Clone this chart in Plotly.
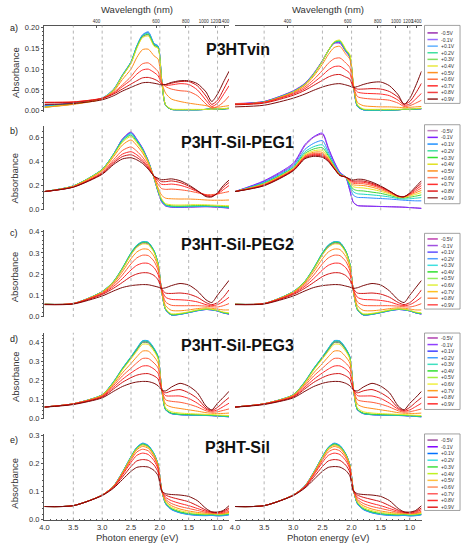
import plotly.graph_objects as go

# photon energy grid shared by all spectra (eV)
energy = [4.0, 3.5, 3.0, 2.8, 2.65, 2.5, 2.4, 2.3, 2.2, 2.1, 2.03, 1.97,
          1.9, 1.8, 1.65, 1.5, 1.35, 1.2, 1.1, 1.0, 0.9, 0.8]

voltages = ["-0.5V", "-0.1V", "+0.1V", "+0.2V", "+0.3V", "+0.4V",
            "+0.5V", "+0.6V", "+0.7V", "+0.8V", "+0.9V"]
samples = ["P3HTvin", "P3HT-Sil-PEG1", "P3HT-Sil-PEG2", "P3HT-Sil-PEG3", "P3HT-Sil"]
panel_tags = ["a)", "b)", "c)", "d)", "e)"]

# absorbance, one list per potential
vin_left = [
    [0.012, 0.018, 0.029, 0.05, 0.083, 0.115, 0.152, 0.178, 0.183, 0.158, 0.152, 0.075, 0.012, 0.003, 0.002, 0.002, 0.002, 0.003, 0.004, 0.003, 0.004, 0.005],
    [0.012, 0.018, 0.03, 0.051, 0.085, 0.117, 0.155, 0.182, 0.188, 0.161, 0.155, 0.077, 0.013, 0.003, 0.002, 0.002, 0.002, 0.003, 0.005, 0.003, 0.004, 0.005],
    [0.011, 0.018, 0.03, 0.052, 0.086, 0.118, 0.156, 0.183, 0.19, 0.162, 0.156, 0.078, 0.013, 0.003, 0.002, 0.002, 0.002, 0.003, 0.006, 0.004, 0.004, 0.006],
    [0.01, 0.017, 0.03, 0.051, 0.085, 0.117, 0.155, 0.181, 0.187, 0.16, 0.154, 0.077, 0.013, 0.003, 0.002, 0.002, 0.002, 0.003, 0.005, 0.004, 0.004, 0.006],
    [0.008, 0.016, 0.029, 0.05, 0.084, 0.116, 0.153, 0.179, 0.184, 0.158, 0.152, 0.076, 0.013, 0.003, 0.002, 0.002, 0.002, 0.003, 0.004, 0.003, 0.004, 0.005],
    [0.008, 0.016, 0.029, 0.05, 0.083, 0.114, 0.15, 0.176, 0.18, 0.155, 0.15, 0.075, 0.014, 0.004, 0.003, 0.003, 0.003, 0.003, 0.004, 0.004, 0.005, 0.006],
    [0.008, 0.015, 0.028, 0.047, 0.075, 0.1, 0.128, 0.147, 0.148, 0.132, 0.124, 0.07, 0.042, 0.028, 0.022, 0.018, 0.015, 0.012, 0.008, 0.008, 0.01, 0.012],
    [0.02, 0.021, 0.03, 0.044, 0.062, 0.082, 0.1, 0.113, 0.115, 0.104, 0.094, 0.068, 0.058, 0.052, 0.048, 0.046, 0.036, 0.016, 0.006, 0.01, 0.02, 0.035],
    [0.02, 0.021, 0.03, 0.042, 0.058, 0.074, 0.088, 0.098, 0.1, 0.092, 0.084, 0.066, 0.061, 0.062, 0.065, 0.063, 0.05, 0.025, 0.01, 0.018, 0.038, 0.06],
    [0.019, 0.02, 0.029, 0.04, 0.052, 0.064, 0.072, 0.079, 0.08, 0.076, 0.071, 0.064, 0.063, 0.066, 0.07, 0.07, 0.06, 0.035, 0.015, 0.025, 0.05, 0.077],
    [0.015, 0.017, 0.026, 0.036, 0.047, 0.056, 0.062, 0.067, 0.068, 0.066, 0.064, 0.062, 0.063, 0.068, 0.072, 0.072, 0.065, 0.045, 0.022, 0.04, 0.068, 0.095],
]
vin_right = [
    [0.017, 0.022, 0.048, 0.066, 0.09, 0.121, 0.145, 0.162, 0.162, 0.142, 0.128, 0.06, 0.01, 0.002, 0.001, 0.001, 0.001, 0.002, 0.003, 0.003, 0.004, 0.004],
    [0.016, 0.022, 0.047, 0.065, 0.089, 0.12, 0.145, 0.163, 0.164, 0.143, 0.13, 0.061, 0.01, 0.002, 0.001, 0.001, 0.001, 0.002, 0.003, 0.003, 0.004, 0.004],
    [0.016, 0.021, 0.046, 0.064, 0.088, 0.12, 0.145, 0.164, 0.166, 0.144, 0.131, 0.062, 0.011, 0.002, 0.001, 0.001, 0.001, 0.002, 0.003, 0.003, 0.004, 0.005],
    [0.015, 0.021, 0.046, 0.064, 0.088, 0.119, 0.144, 0.164, 0.167, 0.145, 0.132, 0.063, 0.011, 0.002, 0.001, 0.001, 0.001, 0.002, 0.003, 0.003, 0.004, 0.005],
    [0.015, 0.021, 0.045, 0.063, 0.087, 0.119, 0.144, 0.165, 0.168, 0.146, 0.133, 0.064, 0.012, 0.003, 0.002, 0.002, 0.002, 0.002, 0.003, 0.003, 0.004, 0.005],
    [0.015, 0.02, 0.045, 0.063, 0.087, 0.119, 0.145, 0.166, 0.17, 0.148, 0.135, 0.066, 0.014, 0.004, 0.003, 0.003, 0.003, 0.003, 0.004, 0.004, 0.005, 0.006],
    [0.015, 0.02, 0.044, 0.061, 0.083, 0.112, 0.135, 0.152, 0.155, 0.136, 0.124, 0.062, 0.02, 0.012, 0.01, 0.009, 0.009, 0.008, 0.007, 0.008, 0.009, 0.01],
    [0.016, 0.02, 0.042, 0.057, 0.075, 0.097, 0.114, 0.125, 0.127, 0.115, 0.104, 0.06, 0.034, 0.03, 0.028, 0.027, 0.025, 0.018, 0.01, 0.012, 0.018, 0.025],
    [0.016, 0.02, 0.04, 0.053, 0.068, 0.085, 0.098, 0.106, 0.107, 0.098, 0.09, 0.058, 0.045, 0.042, 0.041, 0.04, 0.036, 0.025, 0.013, 0.016, 0.028, 0.042],
    [0.014, 0.018, 0.037, 0.049, 0.061, 0.073, 0.081, 0.086, 0.087, 0.081, 0.076, 0.057, 0.052, 0.052, 0.053, 0.052, 0.046, 0.032, 0.016, 0.022, 0.042, 0.066],
    [0.009, 0.013, 0.03, 0.04, 0.049, 0.057, 0.061, 0.064, 0.065, 0.062, 0.059, 0.056, 0.058, 0.063, 0.068, 0.069, 0.06, 0.038, 0.015, 0.03, 0.06, 0.095],
]
peg1_left = [
    [0.15, 0.195, 0.33, 0.46, 0.585, 0.645, 0.585, 0.51, 0.405, 0.26, 0.145, 0.065, 0.03, 0.02, 0.018, 0.02, 0.022, 0.024, 0.022, 0.02, 0.016, 0.012],
    [0.15, 0.196, 0.332, 0.462, 0.583, 0.64, 0.582, 0.508, 0.403, 0.26, 0.148, 0.068, 0.032, 0.022, 0.02, 0.022, 0.024, 0.025, 0.024, 0.021, 0.018, 0.014],
    [0.15, 0.197, 0.334, 0.463, 0.58, 0.635, 0.578, 0.505, 0.402, 0.261, 0.15, 0.072, 0.034, 0.024, 0.022, 0.024, 0.026, 0.027, 0.026, 0.023, 0.02, 0.016],
    [0.15, 0.197, 0.334, 0.462, 0.575, 0.628, 0.573, 0.5, 0.399, 0.262, 0.153, 0.076, 0.037, 0.027, 0.025, 0.027, 0.029, 0.03, 0.028, 0.026, 0.023, 0.02],
    [0.15, 0.196, 0.332, 0.458, 0.568, 0.618, 0.565, 0.494, 0.396, 0.263, 0.157, 0.082, 0.042, 0.032, 0.03, 0.032, 0.034, 0.034, 0.032, 0.03, 0.027, 0.024],
    [0.15, 0.195, 0.33, 0.453, 0.558, 0.606, 0.555, 0.487, 0.392, 0.265, 0.162, 0.09, 0.05, 0.04, 0.038, 0.04, 0.041, 0.04, 0.038, 0.036, 0.034, 0.032],
    [0.15, 0.193, 0.322, 0.44, 0.535, 0.578, 0.532, 0.47, 0.383, 0.268, 0.18, 0.12, 0.095, 0.09, 0.088, 0.088, 0.085, 0.08, 0.078, 0.078, 0.078, 0.08],
    [0.15, 0.19, 0.31, 0.415, 0.49, 0.52, 0.485, 0.435, 0.365, 0.272, 0.21, 0.175, 0.168, 0.17, 0.165, 0.155, 0.14, 0.125, 0.125, 0.13, 0.14, 0.15],
    [0.15, 0.188, 0.303, 0.398, 0.46, 0.48, 0.455, 0.412, 0.352, 0.275, 0.235, 0.21, 0.208, 0.212, 0.202, 0.18, 0.15, 0.12, 0.115, 0.13, 0.165, 0.2],
    [0.15, 0.187, 0.298, 0.387, 0.44, 0.455, 0.433, 0.397, 0.343, 0.277, 0.25, 0.232, 0.232, 0.238, 0.225, 0.195, 0.155, 0.115, 0.11, 0.135, 0.185, 0.225],
    [0.15, 0.186, 0.293, 0.375, 0.42, 0.43, 0.413, 0.383, 0.335, 0.278, 0.26, 0.248, 0.25, 0.255, 0.24, 0.205, 0.158, 0.108, 0.105, 0.14, 0.2, 0.245],
]
peg1_right = [
    [0.15, 0.235, 0.375, 0.53, 0.6, 0.625, 0.505, 0.395, 0.305, 0.268, 0.16, 0.062, 0.035, 0.03, 0.028, 0.026, 0.024, 0.022, 0.02, 0.017, 0.014, 0.011],
    [0.15, 0.24, 0.385, 0.54, 0.605, 0.635, 0.515, 0.4, 0.31, 0.268, 0.16, 0.06, 0.034, 0.03, 0.028, 0.026, 0.024, 0.022, 0.02, 0.017, 0.014, 0.01],
    [0.15, 0.228, 0.365, 0.5, 0.55, 0.572, 0.48, 0.38, 0.3, 0.27, 0.185, 0.12, 0.102, 0.1, 0.096, 0.092, 0.088, 0.082, 0.078, 0.075, 0.073, 0.073],
    [0.15, 0.222, 0.355, 0.48, 0.522, 0.537, 0.46, 0.37, 0.295, 0.27, 0.2, 0.148, 0.132, 0.128, 0.122, 0.115, 0.105, 0.092, 0.088, 0.09, 0.095, 0.1],
    [0.15, 0.218, 0.348, 0.466, 0.503, 0.513, 0.447, 0.363, 0.292, 0.27, 0.21, 0.17, 0.158, 0.155, 0.145, 0.135, 0.118, 0.1, 0.097, 0.103, 0.112, 0.122],
    [0.15, 0.214, 0.342, 0.455, 0.488, 0.492, 0.435, 0.357, 0.29, 0.27, 0.222, 0.19, 0.183, 0.18, 0.168, 0.152, 0.13, 0.105, 0.102, 0.112, 0.127, 0.142],
    [0.15, 0.21, 0.337, 0.446, 0.476, 0.475, 0.425, 0.352, 0.288, 0.27, 0.232, 0.206, 0.202, 0.2, 0.186, 0.165, 0.138, 0.108, 0.105, 0.12, 0.14, 0.16],
    [0.15, 0.207, 0.333, 0.44, 0.466, 0.462, 0.418, 0.348, 0.286, 0.27, 0.24, 0.218, 0.216, 0.215, 0.2, 0.176, 0.145, 0.11, 0.107, 0.126, 0.152, 0.18],
    [0.15, 0.204, 0.33, 0.434, 0.458, 0.452, 0.412, 0.345, 0.285, 0.27, 0.246, 0.228, 0.228, 0.227, 0.21, 0.184, 0.15, 0.112, 0.108, 0.13, 0.165, 0.2],
    [0.15, 0.201, 0.326, 0.428, 0.45, 0.443, 0.406, 0.342, 0.284, 0.27, 0.25, 0.237, 0.238, 0.237, 0.218, 0.19, 0.153, 0.113, 0.108, 0.135, 0.178, 0.22],
    [0.15, 0.198, 0.322, 0.422, 0.442, 0.434, 0.4, 0.339, 0.283, 0.27, 0.254, 0.246, 0.252, 0.25, 0.228, 0.196, 0.155, 0.112, 0.106, 0.14, 0.19, 0.24],
]
# PEG2, PEG3 and Sil: both columns show the same spectra
peg2 = [
    [0.057, 0.06, 0.115, 0.162, 0.222, 0.292, 0.328, 0.345, 0.342, 0.305, 0.245, 0.12, 0.032, 0.007, 0.01, 0.018, 0.027, 0.032, 0.03, 0.025, 0.016, 0.01],
    [0.057, 0.06, 0.116, 0.164, 0.225, 0.296, 0.332, 0.35, 0.347, 0.308, 0.248, 0.121, 0.031, 0.006, 0.009, 0.017, 0.026, 0.032, 0.03, 0.025, 0.016, 0.01],
    [0.057, 0.06, 0.117, 0.166, 0.228, 0.3, 0.337, 0.353, 0.35, 0.31, 0.25, 0.122, 0.031, 0.006, 0.009, 0.017, 0.026, 0.032, 0.03, 0.025, 0.016, 0.011],
    [0.057, 0.06, 0.117, 0.166, 0.228, 0.3, 0.336, 0.352, 0.349, 0.309, 0.249, 0.122, 0.032, 0.007, 0.01, 0.018, 0.027, 0.033, 0.031, 0.026, 0.017, 0.012],
    [0.057, 0.06, 0.116, 0.165, 0.226, 0.297, 0.333, 0.349, 0.346, 0.307, 0.248, 0.122, 0.033, 0.008, 0.011, 0.019, 0.028, 0.034, 0.032, 0.027, 0.018, 0.013],
    [0.057, 0.06, 0.115, 0.163, 0.222, 0.291, 0.326, 0.342, 0.339, 0.301, 0.244, 0.122, 0.036, 0.012, 0.014, 0.021, 0.03, 0.035, 0.033, 0.028, 0.02, 0.016],
    [0.057, 0.06, 0.113, 0.157, 0.21, 0.272, 0.304, 0.318, 0.316, 0.283, 0.232, 0.124, 0.05, 0.028, 0.026, 0.03, 0.036, 0.04, 0.038, 0.034, 0.03, 0.03],
    [0.056, 0.06, 0.11, 0.15, 0.195, 0.248, 0.276, 0.289, 0.287, 0.26, 0.217, 0.126, 0.068, 0.052, 0.05, 0.05, 0.05, 0.048, 0.045, 0.044, 0.05, 0.06],
    [0.056, 0.06, 0.107, 0.142, 0.178, 0.219, 0.241, 0.251, 0.25, 0.23, 0.197, 0.128, 0.09, 0.08, 0.078, 0.075, 0.068, 0.055, 0.05, 0.055, 0.07, 0.09],
    [0.056, 0.059, 0.103, 0.133, 0.16, 0.188, 0.2, 0.206, 0.205, 0.193, 0.172, 0.13, 0.11, 0.108, 0.11, 0.105, 0.09, 0.065, 0.055, 0.065, 0.09, 0.125],
    [0.055, 0.058, 0.096, 0.12, 0.136, 0.145, 0.148, 0.15, 0.149, 0.143, 0.138, 0.132, 0.135, 0.145, 0.155, 0.148, 0.12, 0.078, 0.065, 0.1, 0.135, 0.17],
]
peg3 = [
    [0.06, 0.077, 0.123, 0.19, 0.258, 0.318, 0.36, 0.4, 0.398, 0.362, 0.32, 0.158, 0.046, 0.026, 0.02, 0.018, 0.017, 0.016, 0.015, 0.013, 0.011, 0.009],
    [0.06, 0.077, 0.124, 0.193, 0.262, 0.323, 0.366, 0.406, 0.405, 0.367, 0.324, 0.159, 0.045, 0.025, 0.019, 0.017, 0.016, 0.015, 0.014, 0.012, 0.01, 0.008],
    [0.06, 0.077, 0.125, 0.195, 0.264, 0.326, 0.37, 0.41, 0.409, 0.37, 0.326, 0.16, 0.045, 0.025, 0.019, 0.017, 0.016, 0.015, 0.014, 0.012, 0.01, 0.008],
    [0.06, 0.077, 0.125, 0.194, 0.263, 0.325, 0.368, 0.408, 0.407, 0.368, 0.325, 0.16, 0.046, 0.026, 0.02, 0.018, 0.017, 0.016, 0.015, 0.013, 0.011, 0.009],
    [0.06, 0.077, 0.124, 0.192, 0.26, 0.321, 0.363, 0.402, 0.401, 0.363, 0.321, 0.16, 0.048, 0.028, 0.022, 0.02, 0.019, 0.018, 0.017, 0.015, 0.013, 0.011],
    [0.06, 0.077, 0.123, 0.189, 0.255, 0.314, 0.354, 0.391, 0.39, 0.354, 0.314, 0.16, 0.055, 0.035, 0.028, 0.025, 0.023, 0.021, 0.02, 0.018, 0.016, 0.015],
    [0.06, 0.077, 0.121, 0.182, 0.24, 0.29, 0.325, 0.355, 0.355, 0.325, 0.292, 0.158, 0.075, 0.06, 0.052, 0.045, 0.038, 0.03, 0.027, 0.026, 0.026, 0.028],
    [0.06, 0.077, 0.118, 0.174, 0.224, 0.265, 0.293, 0.316, 0.316, 0.292, 0.266, 0.156, 0.098, 0.09, 0.085, 0.075, 0.06, 0.04, 0.033, 0.035, 0.042, 0.05],
    [0.06, 0.076, 0.115, 0.165, 0.206, 0.24, 0.26, 0.276, 0.277, 0.26, 0.238, 0.154, 0.12, 0.118, 0.118, 0.105, 0.08, 0.048, 0.038, 0.045, 0.062, 0.08],
    [0.06, 0.075, 0.112, 0.156, 0.19, 0.215, 0.228, 0.235, 0.236, 0.224, 0.208, 0.152, 0.135, 0.145, 0.152, 0.135, 0.105, 0.055, 0.042, 0.058, 0.085, 0.11],
    [0.059, 0.073, 0.108, 0.143, 0.168, 0.185, 0.192, 0.195, 0.194, 0.185, 0.172, 0.15, 0.145, 0.165, 0.185, 0.17, 0.135, 0.065, 0.045, 0.08, 0.11, 0.143],
]
sil = [
    [0.047, 0.05, 0.088, 0.12, 0.167, 0.222, 0.255, 0.268, 0.26, 0.232, 0.195, 0.108, 0.058, 0.038, 0.026, 0.02, 0.017, 0.016, 0.017, 0.015, 0.016, 0.019],
    [0.047, 0.05, 0.088, 0.121, 0.169, 0.225, 0.258, 0.272, 0.264, 0.235, 0.197, 0.108, 0.057, 0.037, 0.025, 0.019, 0.016, 0.015, 0.016, 0.014, 0.015, 0.018],
    [0.047, 0.05, 0.088, 0.121, 0.17, 0.226, 0.259, 0.274, 0.266, 0.236, 0.198, 0.108, 0.057, 0.036, 0.024, 0.018, 0.015, 0.014, 0.015, 0.013, 0.014, 0.017],
    [0.047, 0.05, 0.088, 0.121, 0.169, 0.225, 0.258, 0.272, 0.264, 0.235, 0.197, 0.108, 0.058, 0.038, 0.026, 0.02, 0.017, 0.016, 0.017, 0.015, 0.016, 0.019],
    [0.047, 0.05, 0.088, 0.12, 0.168, 0.224, 0.256, 0.27, 0.262, 0.233, 0.196, 0.108, 0.06, 0.04, 0.028, 0.022, 0.019, 0.018, 0.019, 0.017, 0.018, 0.021],
    [0.047, 0.05, 0.088, 0.12, 0.167, 0.222, 0.254, 0.267, 0.259, 0.231, 0.195, 0.108, 0.063, 0.044, 0.032, 0.026, 0.022, 0.02, 0.021, 0.019, 0.02, 0.023],
    [0.047, 0.05, 0.088, 0.12, 0.166, 0.219, 0.25, 0.262, 0.255, 0.228, 0.193, 0.107, 0.067, 0.05, 0.038, 0.031, 0.026, 0.023, 0.023, 0.021, 0.022, 0.026],
    [0.047, 0.05, 0.088, 0.119, 0.163, 0.213, 0.242, 0.252, 0.246, 0.221, 0.188, 0.106, 0.073, 0.058, 0.047, 0.04, 0.033, 0.026, 0.024, 0.022, 0.024, 0.03],
    [0.047, 0.05, 0.087, 0.118, 0.159, 0.205, 0.23, 0.238, 0.233, 0.211, 0.181, 0.105, 0.08, 0.068, 0.058, 0.05, 0.04, 0.03, 0.026, 0.024, 0.027, 0.036],
    [0.047, 0.05, 0.087, 0.116, 0.152, 0.19, 0.21, 0.215, 0.212, 0.195, 0.17, 0.104, 0.088, 0.08, 0.072, 0.064, 0.05, 0.034, 0.027, 0.026, 0.03, 0.042],
    [0.047, 0.05, 0.086, 0.113, 0.143, 0.173, 0.187, 0.19, 0.188, 0.176, 0.157, 0.103, 0.093, 0.09, 0.088, 0.083, 0.068, 0.04, 0.028, 0.027, 0.033, 0.05],
]

panels = [(vin_left, vin_right), (peg1_left, peg1_right), (peg2, peg2), (peg3, peg3), (sil, sil)]

energy_ticks = [4.0, 3.5, 3.0, 2.5, 2.0, 1.5, 1.0]
energy_labels = ["4.0", "3.5", "3.0", "2.5", "2.0", "1.5", "1.0"]
grid_energies = [3.5, 3.0, 2.5, 2.0, 1.5, 1.0]
wavelength_ticks = [400, 600, 800, 1000, 1200, 1400]
wavelength_labels = ["400", "600", "800", "1000", "1200", "1400"]
y_ticks = [[0, 0.05, 0.10, 0.15, 0.20], [0, 0.2, 0.4, 0.6], [0, 0.1, 0.2, 0.3, 0.4],
           [0, 0.1, 0.2, 0.3, 0.4], [0, 0.1, 0.2, 0.3]]
y_labels = [["0.00", "0.05", "0.10", "0.15", "0.20"], ["0.0", "0.2", "0.4", "0.6"],
            ["0.0", "0.1", "0.2", "0.3", "0.4"], ["0.0", "0.1", "0.2", "0.3", "0.4"],
            ["0.0", "0.1", "0.2", "0.3"]]
y_minor = [0.01, 0.05, 0.02, 0.02, 0.02]

line_colors = ["#a83cc0", "#7b2cff", "#2a8cff", "#18d6c0", "#3ad43a", "#e6e61e",
               "#ff8c1a", "#ff5a36", "#ff2a2a", "#d21414", "#7a0a0a"]
legend_colors = [
    ["#9b30b0", "#9a6cff", "#60b0ff", "#40e0a0", "#80e060", "#e8e840",
     "#ff9020", "#ff7040", "#ff3030", "#f04040", "#902020"],
    ["#c080c0", "#8020ff", "#2090ff", "#40e0a0", "#30e030", "#e0e020",
     "#ff9020", "#ff8060", "#ff3030", "#e02020", "#a04040"],
    ["#c040b0", "#a050e0", "#6050ff", "#50a0ff", "#40e0e0", "#30e030",
     "#90f060", "#e0f040", "#ffc020", "#ff9050", "#ff5050"],
    ["#b040b0", "#9040ff", "#4040ff", "#40a0ff", "#40e0c0", "#30e030",
     "#a0f040", "#f0f040", "#ffa020", "#ff6040", "#ff3030"],
    ["#a050a0", "#8000ff", "#0070ff", "#40e0e0", "#40e040", "#c0f020",
     "#ffc040", "#ff9060", "#ff6060", "#ff3030", "#e02020"],
]

# page geometry in pixels
W, H = 464, 550
cols = [(40, 227), (233, 422)]
rows = [(23, 110), (125, 210), (230, 318), (334, 421), (437, 524)]
# (pixel of 0, pixel of ref value, ref value) per row
calib = [(109, 25, 0.20), (209.3, 136, 0.6), (317.3, 231.7, 0.4), (420.7, 344, 0.4), (523.3, 438.4, 0.3)]
title_y = [47, 141, 245, 347, 450]
tag_y = [25, 130, 233, 340, 443]
absorb_y = [70, 177, 277, 378, 486]
legend_box = [(22.7, 101.7), (123.3, 203.3), (233.3, 310), (334.3, 411.7), (436.5, 514)]
legend_first = [30.3, 129.3, 239, 339.3, 442.7]
legend_step = [6.7, 6.8, 6.67, 6.67, 6.8]

FONT = "Liberation Sans, Arial, sans-serif"
AX = "#555555"


def fx(x):
    return x / W


def fy(y):
    return 1 - y / H


def label(text, x, y, size, color="#333", anchor="center", **kw):
    return dict(text=text, x=fx(x), y=fy(y), xref="paper", yref="paper", showarrow=False,
                xanchor=anchor, yanchor="middle", font=dict(size=size, color=color, family=FONT), **kw)


fig = go.Figure()
layout = {}
shapes = []
annotations = []

for r in range(5):
    top, bot = rows[r]
    p0, p1, v1 = calib[r]
    scale = (p0 - p1) / v1
    yrange = [(p0 - bot) / scale, (p0 - top) / scale]
    for c in range(2):
        k = r * 2 + c + 1
        xref = "x" if k == 1 else "x%d" % k
        yref = "y" if k == 1 else "y%d" % k
        data = panels[r][c]
        for i in range(len(voltages)):
            fig.add_trace(go.Scatter(
                x=energy, y=data[i], mode="lines", name=voltages[i],
                line=dict(color=line_colors[i], width=1, shape="spline", smoothing=0.7),
                xaxis=xref, yaxis=yref, showlegend=False, hoverinfo="skip"))

        xa = dict(domain=[fx(cols[c][0]), fx(cols[c][1])], range=[4.0, 0.8],
                  anchor=yref, showgrid=False, zeroline=False)
        if r == 4:
            xa.update(showline=True, linecolor=AX, linewidth=1, ticks="inside",
                      ticklen=2.5, tickcolor=AX, tickvals=energy_ticks, ticktext=energy_labels,
                      tickfont=dict(size=7.5, color="#333", family=FONT),
                      minor=dict(ticks="inside", ticklen=1.5, dtick=0.1, tick0=0, tickcolor=AX))
        else:
            xa.update(showline=False, showticklabels=False, ticks="")
        layout["xaxis" if k == 1 else "xaxis%d" % k] = xa

        ya = dict(domain=[fy(bot), fy(top)], range=yrange, anchor=xref,
                  showgrid=False, zeroline=False)
        if c == 0:
            ya.update(showline=True, linecolor=AX, linewidth=1, ticks="outside", ticklen=2.5,
                      tickcolor=AX, tickvals=y_ticks[r], ticktext=y_labels[r],
                      tickfont=dict(size=7.5, color="#333", family=FONT),
                      minor=dict(ticks="outside", ticklen=1.5, dtick=y_minor[r], tickcolor=AX))
        else:
            ya.update(visible=False)
        layout["yaxis" if k == 1 else "yaxis%d" % k] = ya

        for e in grid_energies:
            shapes.append(dict(type="line", xref=xref, yref=yref + " domain", x0=e, x1=e,
                               y0=0, y1=1, line=dict(color="#b4b4b4", width=1, dash="dot")))

    annotations.append(label("<b>%s</b>" % samples[r], 236, title_y[r], 16, color="#111"))
    annotations.append(label(panel_tags[r], 9, tag_y[r], 9, color="#222"))
    annotations.append(label("Absorbance", 10, absorb_y[r], 9.5, textangle=-90))

    # hand-made legend box at the right of each row
    b0, b1 = legend_box[r]
    shapes.append(dict(type="rect", xref="paper", yref="paper", x0=fx(425), x1=fx(461),
                       y0=fy(b1), y1=fy(b0), line=dict(color="#8a8a8a", width=0.8),
                       fillcolor="white"))
    for i, v in enumerate(voltages):
        yy = legend_first[r] + i * legend_step[r]
        shapes.append(dict(type="line", xref="paper", yref="paper", x0=fx(428), x1=fx(438.5),
                           y0=fy(yy), y1=fy(yy), line=dict(color=legend_colors[r][i], width=1.5)))
        annotations.append(label(v, 439.5, yy, 5, anchor="left"))

# wavelength scale on top of the first row
for c, (base, yref) in enumerate([("x", "y"), ("x2", "y2")]):
    key = "xaxis%d" % (11 + c)
    layout[key] = dict(overlaying=base, anchor=yref, side="top", range=[4.0, 0.8],
                       showline=True, linecolor=AX, linewidth=1, ticks="inside", ticklen=2,
                       tickcolor=AX, showgrid=False, zeroline=False, tickangle=0,
                       tickvals=[1239.84 / w for w in wavelength_ticks], ticktext=wavelength_labels,
                       tickfont=dict(size=4.5, color="#333", family=FONT))
    fig.add_trace(go.Scatter(x=[], y=[], xaxis="x%d" % (11 + c), yaxis=yref,
                             showlegend=False, hoverinfo="skip"))
    mid = (cols[c][0] + cols[c][1]) / 2
    annotations.append(label("Wavelength (nm)", mid, 7, 9.5))
    annotations.append(label("Photon energy (eV)", mid, 541, 9.5))

fig.update_layout(width=W, height=H, margin=dict(l=0, r=0, t=0, b=0),
                  paper_bgcolor="white", plot_bgcolor="white",
                  font=dict(family=FONT), shapes=shapes, annotations=annotations, **layout)

fig.write_html("out.html", config={"displayModeBar": False},
               post_script="document.body.style.margin='0';")
